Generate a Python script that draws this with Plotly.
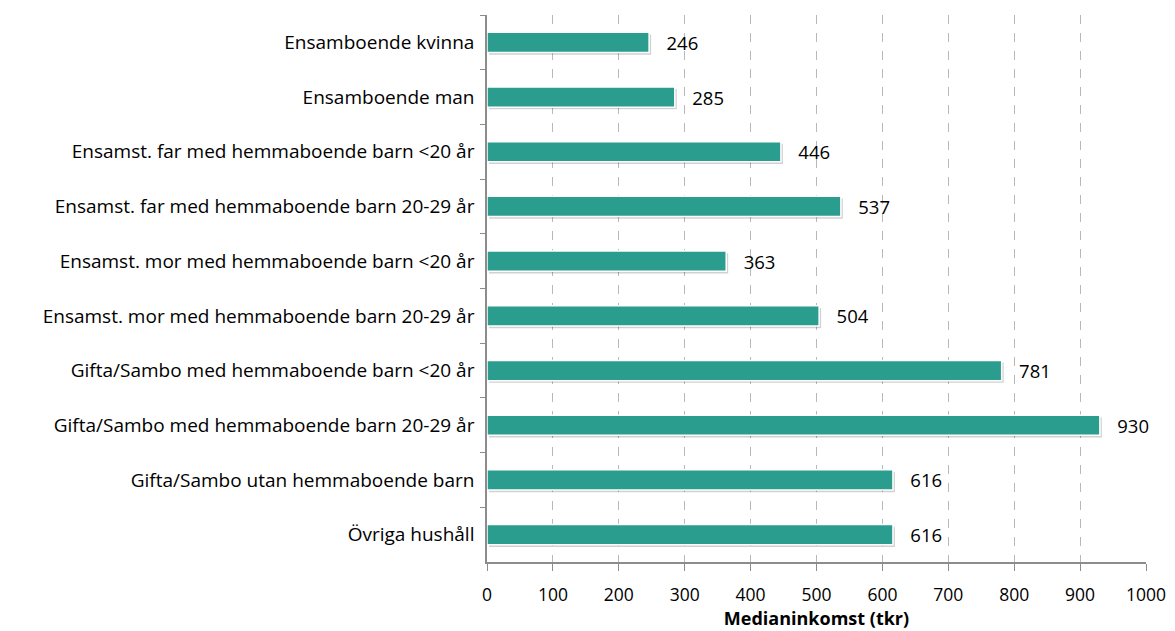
import plotly.graph_objects as go

# hushållstyper, uppifrån och ner
kategorier = [
    "Ensamboende kvinna",
    "Ensamboende man",
    "Ensamst. far med hemmaboende barn &lt;20 år",
    "Ensamst. far med hemmaboende barn 20-29 år",
    "Ensamst. mor med hemmaboende barn &lt;20 år",
    "Ensamst. mor med hemmaboende barn 20-29 år",
    "Gifta/Sambo med hemmaboende barn &lt;20 år",
    "Gifta/Sambo med hemmaboende barn 20-29 år",
    "Gifta/Sambo utan hemmaboende barn",
    "Övriga hushåll",
]
medianinkomst = [246, 285, 446, 537, 363, 504, 781, 930, 616, 616]
x_ticks = [0, 100, 200, 300, 400, 500, 600, 700, 800, 900, 1000]

font = "'Open Sans', sans-serif"
bar_w = 0.37

fig = go.Figure()
# mjuk skugga bakom staplarna
fig.add_trace(go.Bar(
    y=kategorier,
    x=medianinkomst,
    base=3,
    orientation="h",
    width=bar_w,
    offset=-bar_w / 2 + 0.04,
    marker=dict(color="rgba(0,0,0,0.18)", line=dict(width=0)),
    hoverinfo="skip",
))
fig.add_trace(go.Bar(
    y=kategorier,
    x=medianinkomst,
    orientation="h",
    width=bar_w,
    offset=-bar_w / 2,
    marker=dict(color="#2a9d8f", line=dict(color="white", width=1.5)),
    text=medianinkomst,
    texttemplate="   %{x}",
    textposition="outside",
    constraintext="none",
    textfont=dict(size=18.5, color="black"),
    cliponaxis=False,
))

# sidans body har 8 px marginal, därför något mindre figur
fig.update_layout(
    width=1167, height=623,
    margin=dict(l=479, r=29, t=7, b=69),
    paper_bgcolor="white", plot_bgcolor="white",
    font=dict(family=font, size=17, color="black"),
    showlegend=False,
    barmode="overlay",
)
fig.update_xaxes(
    range=[0, 1000],
    tickvals=x_ticks,
    automargin=False,
    showgrid=True, gridcolor="#b8b8b8", griddash="dash", gridwidth=1,
    showline=True, linecolor="#8c8c8c", linewidth=1.5,
    ticks="outside", ticklen=7, tickcolor="#8c8c8c",
    tickfont=dict(size=17.5),
    ticklabelstandoff=9,
    zeroline=False,
    title=dict(text="<b>Medianinkomst (tkr)</b>", font=dict(size=18), standoff=8),
)
fig.update_yaxes(
    autorange="reversed",
    automargin=False,
    showline=True, linecolor="#8c8c8c", linewidth=1.5,
    ticks="outside", tickson="boundaries", ticklen=5, tickcolor="#8c8c8c",
    showgrid=False,
    tickfont=dict(size=19),
    ticklabelstandoff=7,
)

fig.write_html("out.html")
